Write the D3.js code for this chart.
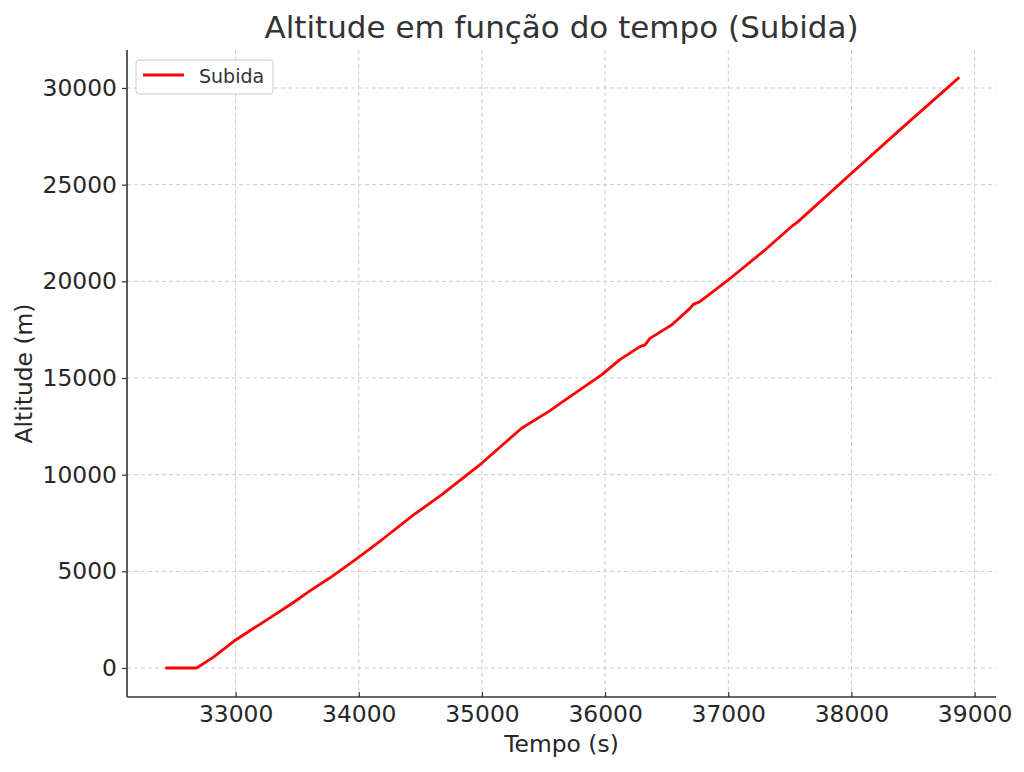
<!DOCTYPE html>
<html>
<head>
<meta charset="utf-8">
<script src="https://cdn.jsdelivr.net/npm/d3@7"></script>
<style>
  body { margin: 0; background: #fff; }
  text { font-family: "DejaVu Sans", sans-serif; }
</style>
</head>
<body>
<div id="chart"></div>
<script>
// data
var tempo = [32440, 32683, 32820, 33000, 33250, 33460, 33600, 33760, 33970, 34185,
	34450, 34480, 34672, 35000, 35150, 35322, 35550, 35674, 35971, 36120,
	36283, 36324, 36364, 36540, 36689, 36716, 36770, 37000, 37298, 37528,
	37560, 38001, 38407, 38867];
var altitude = [0, 0, 560, 1450, 2480, 3350, 3980, 4640, 5590, 6620,
	7950, 8080, 8950, 10600, 11440, 12400, 13300, 13860, 15160, 15950,
	16620, 16710, 17050, 17740, 18600, 18810, 18950, 20070, 21620, 22910,
	23050, 25590, 27910, 30500];
var xTicks = [33000, 34000, 35000, 36000, 37000, 38000, 39000];
var yTicks = [0, 5000, 10000, 15000, 20000, 25000, 30000];

var data = tempo.map(function(t, i){ return {t: t, alt: altitude[i]}; });

// magic numbers
var W = 1024, H = 772;
var margin = {top: 50, right: 28, bottom: 75, left: 127},
	width = W - margin.left - margin.right,
	height = H - margin.top - margin.bottom;

var svg = d3.select("#chart").append("svg")
		.attr("width", W)
		.attr("height", H);

var g = svg.append("g")
		.attr("transform", "translate(" + margin.left + "," + margin.top + ")");

var x = d3.scaleLinear()
		.domain([32118, 39174])
		.range([0, width]);

var y = d3.scaleLinear()
		.domain([-1500, 31965])
		.range([height, 0]);

// grid
g.selectAll(".gx").data(xTicks).enter().append("line")
		.attr("class", "gx")
		.attr("x1", function(d){ return x(d); })
		.attr("x2", function(d){ return x(d); })
		.attr("y1", 0).attr("y2", height)
		.attr("stroke", "#cccccc").attr("stroke-width", 1)
		.attr("stroke-dasharray", "4,3");

g.selectAll(".gy").data(yTicks).enter().append("line")
		.attr("class", "gy")
		.attr("y1", function(d){ return y(d); })
		.attr("y2", function(d){ return y(d); })
		.attr("x1", 0).attr("x2", width)
		.attr("stroke", "#cccccc").attr("stroke-width", 1)
		.attr("stroke-dasharray", "4,3");

// axes (x ticks point inward, y ticks outward)
var xAxis = d3.axisBottom(x).tickValues(xTicks).tickSize(-5).tickPadding(8).tickFormat(d3.format("d"));
var yAxis = d3.axisLeft(y).tickValues(yTicks).tickSize(5).tickPadding(5).tickFormat(d3.format("d"));

var gx = g.append("g")
		.attr("transform", "translate(0," + height + ")")
		.call(xAxis);
var gy = g.append("g").call(yAxis);

[gx, gy].forEach(function(a){
	a.select(".domain").remove();
	a.selectAll(".tick line").attr("stroke", "#333").attr("stroke-width", 1.2);
	a.selectAll(".tick text")
		.attr("fill", "#262626")
		.style("font-size", "23.4px")
		.style("font-family", "DejaVu Sans");
});

// spines, left and bottom only
g.append("line").attr("x1", 0).attr("x2", 0).attr("y1", 0).attr("y2", height)
		.attr("stroke", "#333").attr("stroke-width", 1.6);
g.append("line").attr("x1", 0).attr("x2", width).attr("y1", height).attr("y2", height)
		.attr("stroke", "#333").attr("stroke-width", 1.6);

// the line
var line = d3.line()
		.x(function(d){ return x(d.t); })
		.y(function(d){ return y(d.alt); });

g.append("path")
		.datum(data)
		.attr("d", line)
		.attr("fill", "none")
		.attr("stroke", "#ff0000")
		.attr("stroke-width", 2.8)
		.attr("stroke-linejoin", "round")
		.attr("stroke-linecap", "square");

// title & labels
svg.append("text")
		.attr("x", margin.left + width / 2)
		.attr("y", 38)
		.attr("text-anchor", "middle")
		.attr("fill", "#333")
		.style("font-size", "31px")
		.text("Altitude em função do tempo (Subida)");

svg.append("text")
		.attr("x", margin.left + width / 2)
		.attr("y", 752)
		.attr("text-anchor", "middle")
		.attr("fill", "#262626")
		.style("font-size", "23.4px")
		.text("Tempo (s)");

svg.append("text")
		.attr("transform", "translate(32," + (margin.top + height / 2) + ") rotate(-90)")
		.attr("text-anchor", "middle")
		.attr("fill", "#262626")
		.style("font-size", "23.4px")
		.text("Altitude (m)");

// legend
var lg = g.append("g").attr("transform", "translate(9,10)");
lg.append("rect")
		.attr("width", 137).attr("height", 34)
		.attr("rx", 3)
		.attr("fill", "#fff").attr("fill-opacity", 0.8)
		.attr("stroke", "#cccccc");
lg.append("line")
		.attr("x1", 7).attr("x2", 48).attr("y1", 15).attr("y2", 15)
		.attr("stroke", "#ff0000").attr("stroke-width", 2.8);
lg.append("text")
		.attr("x", 63).attr("y", 23)
		.attr("fill", "#333")
		.style("font-size", "19px")
		.text("Subida");
</script>
</body>
</html>
